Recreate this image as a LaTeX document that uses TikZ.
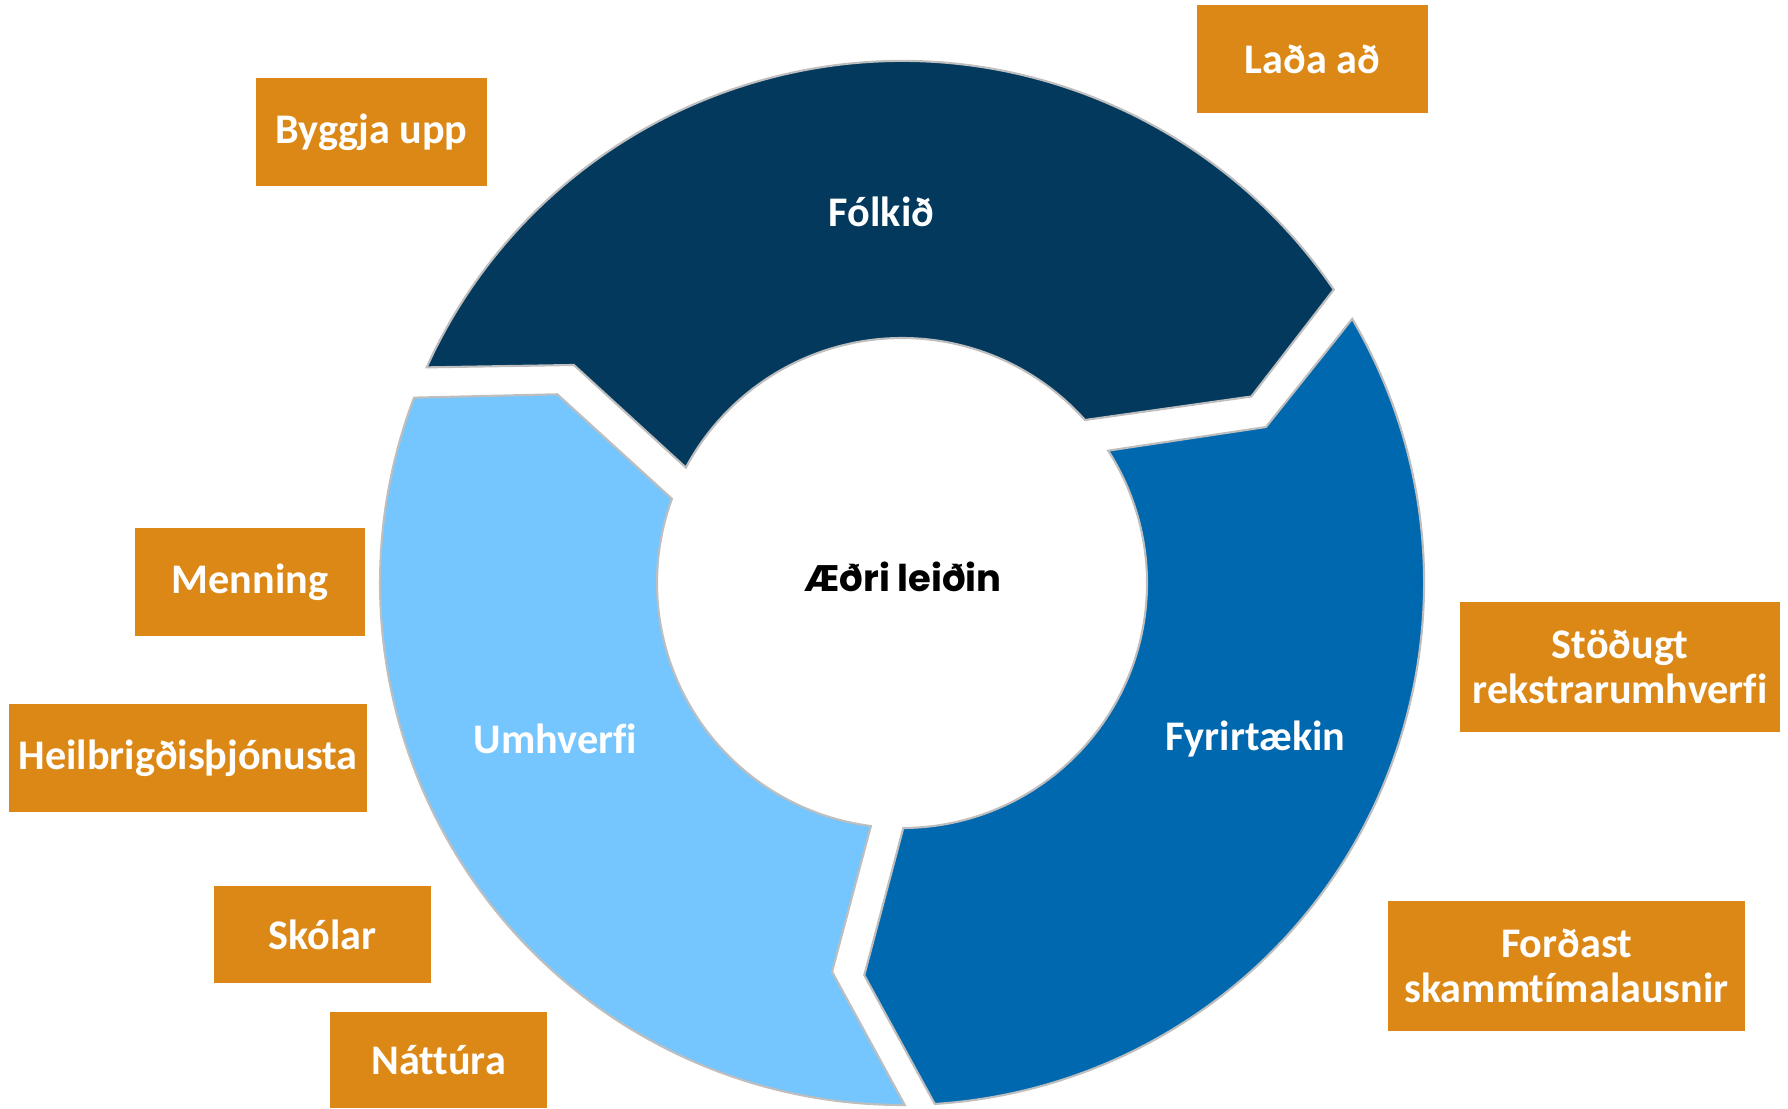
\documentclass[tikz,border=0pt]{standalone}
\usepackage{fontspec}
\setmainfont{Carlito}[Ligatures=CommonOff]
\newfontfamily\geofont{Poppins}
\usetikzlibrary{positioning}

\definecolor{navyseg}{RGB}{2,57,93}
\definecolor{midseg}{RGB}{0,104,175}
\definecolor{lightseg}{RGB}{117,198,254}
\definecolor{boxorange}{RGB}{220,136,22}
\definecolor{segedge}{RGB}{190,190,190}

\begin{document}
\begin{tikzpicture}[
    seg/.style = {draw=segedge, line width=0.6pt, line join=miter},
    seglabel/.style = {text=white, font=\fontsize{12}{13}\selectfont\bfseries},
    box/.style = {fill=boxorange, text=white, inner sep=0pt, align=center,
                  font=\fontsize{12}{13}\selectfont\bfseries}
]
\useasboundingbox (0,0) rectangle (17.88,11.08);

\begin{scope}[shift={(9.02,5.25)}]
% the three arrows of the ring
\filldraw[seg, fill=navyseg] (155.6:5.22) arc[start angle=155.6, end angle=34.2, radius=5.22]
    -- (28.1:3.96) -- (41.7:2.45) arc[start angle=41.7, end angle=151.9, radius=2.45]
    -- (146.4:3.94) -- cycle;
\filldraw[seg, fill=midseg] (30.4:5.22) arc[start angle=30.4, end angle=-86.4, radius=5.22]
    -- (-95.5:3.94) -- (-89.7:2.45) arc[start angle=-89.7, end angle=32.7, radius=2.45]
    -- (23.2:3.96) -- cycle;
\filldraw[seg, fill=lightseg] (-89.7:5.22) arc[start angle=270.3, end angle=159.2, radius=5.22]
    -- (151.3:3.93) -- (159.9:2.45) arc[start angle=159.9, end angle=262.7, radius=2.45]
    -- (-100.2:3.95) -- cycle;

\node[font=\geofont\fontsize{10.5}{12}\selectfont\bfseries] (center) at (0.01, 0.06) {Æðri leiðin};
\end{scope}

\node[seglabel] (folk) at (8.815, 8.96) {Fólkið};
\node[seglabel] (fyrir) at (12.555, 3.69) {Fyrirtækin};
\node[seglabel] (umhv) at (5.553, 3.69) {Umhverfi};

% boxes round the ring
\node[box, minimum width=2.31cm, minimum height=1.08cm] (lada) at (13.125, 10.49) {Laða að};
\node[box, minimum width=2.31cm, minimum height=1.08cm] (byggja) at (3.715, 9.76) {Byggja upp};
\node[box, minimum width=2.30cm, minimum height=1.08cm] (menning) at (2.50, 5.26) {Menning};
\node[box, minimum width=3.58cm, minimum height=1.08cm] (heilbr) at (1.88, 3.50) {Heilbrigðisþjónusta};
\node[box, minimum width=2.17cm, minimum height=0.97cm] (skolar) at (3.225, 1.735) {Skólar};
\node[box, minimum width=2.17cm, minimum height=0.96cm] (nattura) at (4.385, 0.48) {Náttúra};
\node[box, minimum width=3.20cm, minimum height=1.30cm] (stodugt) at (16.20, 4.41) {Stöðugt\\rekstrarumhverfi};
\node[box, minimum width=3.57cm, minimum height=1.30cm] (fordast) at (15.665, 1.42) {Forðast\\skammtímalausnir};
\end{tikzpicture}
\end{document}
